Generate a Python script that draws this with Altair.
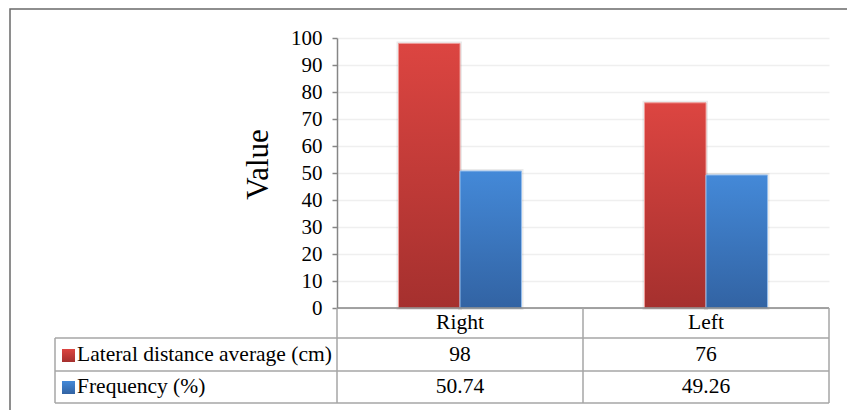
import altair as alt
import pandas as pd

# Chart values
sides = ["Right", "Left"]
series_names = ["Lateral distance average (cm)", "Frequency (%)"]
lateral_distance = [98, 76]
frequency = [50.74, 49.26]
value_labels_lateral = ["98", "76"]
value_labels_frequency = ["50.74", "49.26"]
y_ticks = list(range(0, 101, 10))

rows = []
for i, side in enumerate(sides):
    rows.append({"side": side, "series": series_names[0], "value": lateral_distance[i],
                 "label": value_labels_lateral[i]})
    rows.append({"side": side, "series": series_names[1], "value": frequency[i],
                 "label": value_labels_frequency[i]})
df = pd.DataFrame(rows)

SERIF = "Liberation Serif"
W, H = 492, 270

red_grad = alt.Gradient(
    gradient="linear", x1=0, x2=0, y1=0, y2=1,
    stops=[alt.GradientStop(color="#dc4541", offset=0),
           alt.GradientStop(color="#a5302e", offset=1)],
)
blue_grad = alt.Gradient(
    gradient="linear", x1=0, x2=0, y1=0, y2=1,
    stops=[alt.GradientStop(color="#4489d8", offset=0),
           alt.GradientStop(color="#3263a3", offset=1)],
)

x_enc = alt.X("side:N", sort=sides,
              scale=alt.Scale(domain=sides, paddingInner=0.5, paddingOuter=0.25),
              axis=None)
xoff_enc = alt.XOffset("series:N", sort=series_names,
                       scale=alt.Scale(domain=series_names))
y_enc = alt.Y("value:Q",
              scale=alt.Scale(domain=[0, 100], nice=False),
              axis=alt.Axis(values=y_ticks, title="Value", grid=True,
                            titleX=-70, titleY=126, titleAngle=270,
                            titleAlign="center", titleBaseline="alphabetic"))

base = alt.Chart(df)
one = alt.Chart(pd.DataFrame({"a": [0]}))

# soft shadow behind the bars
shadow = base.mark_bar(fill="transparent", stroke="#000000", strokeOpacity=0.08,
                       strokeWidth=4).encode(x=x_enc, xOffset=xoff_enc, y=y_enc)

bars_red = base.transform_filter(alt.datum.series == series_names[0]).mark_bar(
    color=red_grad, stroke="#f09a97", strokeWidth=1
).encode(x=x_enc, xOffset=xoff_enc, y=y_enc)

bars_blue = base.transform_filter(alt.datum.series == series_names[1]).mark_bar(
    color=blue_grad, stroke="#94bdec", strokeWidth=1
).encode(x=x_enc, xOffset=xoff_enc, y=y_enc)

# data table under the plot
line_color = "#a6a6a6"
table_rules = []
for yy in [300, 333, 365]:
    table_rules.append(one.mark_rule(color=line_color, strokeWidth=1.5).encode(
        x=alt.value(-282), x2=alt.value(W), y=alt.value(yy)))
for xx, y_top in [(-282, 300), (0, 270), (246, 270), (W, 270)]:
    table_rules.append(one.mark_rule(color=line_color, strokeWidth=1.5).encode(
        x=alt.value(xx), y=alt.value(y_top), y2=alt.value(365)))

axis_line = one.mark_rule(color="#868686", strokeWidth=1.5).encode(
    x=alt.value(0), x2=alt.value(W), y=alt.value(H))

text_style = dict(font=SERIF, fontSize=21.5, color="#000000", baseline="middle")

header = alt.Chart(pd.DataFrame({"side": sides})).mark_text(**text_style).encode(
    x=x_enc, y=alt.value(285), text="side:N")

row1 = base.transform_filter(alt.datum.series == series_names[0]).mark_text(**text_style).encode(
    x=x_enc, y=alt.value(317), text="label:N")
row2 = base.transform_filter(alt.datum.series == series_names[1]).mark_text(**text_style).encode(
    x=x_enc, y=alt.value(349), text="label:N")

legend_red = alt.Chart(pd.DataFrame({"series": series_names[:1]})).mark_text(
    align="left", **text_style).encode(x=alt.value(-260), y=alt.value(317), text="series:N")
legend_blue = alt.Chart(pd.DataFrame({"series": series_names[1:]})).mark_text(
    align="left", **text_style).encode(x=alt.value(-260), y=alt.value(349), text="series:N")

swatch_red = one.mark_rect(color=red_grad).encode(
    x=alt.value(-275), x2=alt.value(-262), y=alt.value(311), y2=alt.value(324))
swatch_blue = one.mark_rect(color=blue_grad).encode(
    x=alt.value(-275), x2=alt.value(-262), y=alt.value(343), y2=alt.value(356))

frame = one.mark_rect(fill="transparent", stroke="#6a6a6a", strokeWidth=1.5).encode(
    x=alt.value(-327), x2=alt.value(530), y=alt.value(-29), y2=alt.value(390))

chart = alt.layer(
    frame, shadow, bars_red, bars_blue, axis_line, *table_rules,
    header, row1, row2, legend_red, legend_blue, swatch_red, swatch_blue,
).properties(
    width=W, height=H,
    autosize=alt.AutoSizeParams(type="none"),
    padding={"left": 337, "top": 38, "right": 18, "bottom": 102},
).configure_view(
    stroke=None
).configure_axis(
    labelFont=SERIF, labelFontSize=21, labelColor="#000000", labelPadding=10,
    tickColor="#868686", tickSize=5, tickWidth=1.5,
    domainColor="#868686", domainWidth=1.5,
    gridColor="#efefef", gridWidth=1.5,
    titleFont=SERIF, titleFontSize=31, titleFontWeight="normal", titleColor="#000000",
)

chart.save("out.html", embed_options={"renderer": "svg", "actions": False})
